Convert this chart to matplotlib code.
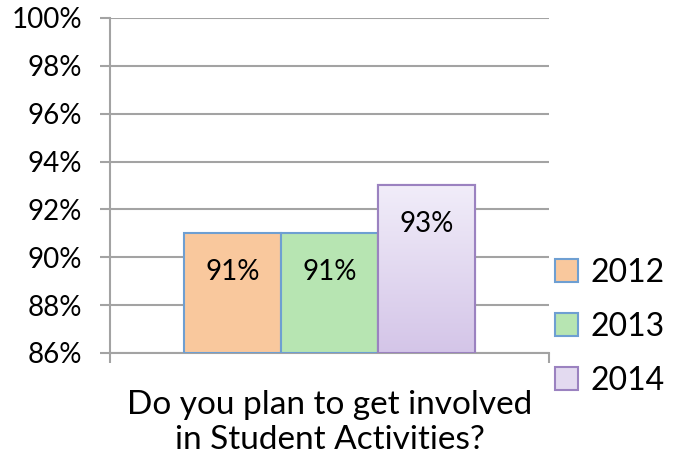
import numpy as np
import matplotlib
matplotlib.use("Agg")
import matplotlib.pyplot as plt
from matplotlib.colors import LinearSegmentedColormap

years = ["2012", "2013", "2014"]
values = [91, 91, 93]
labels = ["91%", "91%", "93%"]
question = "Do you plan to get involved\nin Student Activities?"
yticks = [86, 88, 90, 92, 94, 96, 98, 100]

plt.rcParams["font.family"] = ["Lato", "DejaVu Sans"]

fig = plt.figure(figsize=(6.74, 4.58), dpi=100)
ax = fig.add_axes([0.1632, 0.2293, 0.6513, 0.7314])

face = ["#f9c89d", "#b7e5b2", "#e3daf0"]
edge = ["#6e9fd2", "#6e9fd2", "#9b82c0"]
w = 0.221
xs = [-w, 0, w]
bars = []
for i in range(3):
    b = ax.bar(xs[i], values[i] - 86, bottom=86, width=w, color=face[i],
               edgecolor=edge[i], linewidth=1.5, label=years[i], zorder=3)
    bars.append(b)

# gradient on the 2014 bar
p = bars[2][0]
cmap = LinearSegmentedColormap.from_list("lav", ["#d4c5e8", "#f1edf9"])
grad = np.linspace(0, 1, 256).reshape(-1, 1)
im = ax.imshow(grad, cmap=cmap, origin="lower", aspect="auto", zorder=3.5,
               extent=[p.get_x(), p.get_x() + p.get_width(), p.get_y(), p.get_y() + p.get_height()])
im.set_clip_path(p)
ax.bar(xs[2], values[2] - 86, bottom=86, width=w, fill=False,
       edgecolor=edge[2], linewidth=1.5, zorder=4)

for x, v, t in zip(xs, values, labels):
    ax.text(x, v - 1.6, t, ha="center", va="center", fontsize=20, zorder=5)

ax.set_xlim(-0.5, 0.5)
ax.set_ylim(86, 100)
ax.set_yticks(yticks)
ax.set_yticklabels([f"{t}%" for t in yticks], fontsize=20)
ax.set_xticks([-0.5, 0.5])
ax.set_xticklabels([])
ax.grid(axis="y", color="#a3a3a3", linewidth=1.5, zorder=0)
ax.tick_params(axis="both", length=7, width=1.5, color="#a3a3a3")
ax.tick_params(axis="y", pad=13)
for s in ["top", "right"]:
    ax.spines[s].set_visible(False)
ax.spines["left"].set_color("#a3a3a3")
ax.spines["left"].set_linewidth(1.5)
ax.spines["bottom"].set_color("#a3a3a3")
ax.spines["bottom"].set_linewidth(1.5)

ax.set_xlabel(question, fontsize=24, labelpad=16, linespacing=1.2)

ax.legend(loc="upper left", bbox_to_anchor=(0.781, 0.5), bbox_transform=fig.transFigure,
          frameon=False, fontsize=23, handlelength=0.7, handleheight=0.7,
          handletextpad=0.4, labelspacing=0.75)

fig.savefig("out.png", dpi=100)
